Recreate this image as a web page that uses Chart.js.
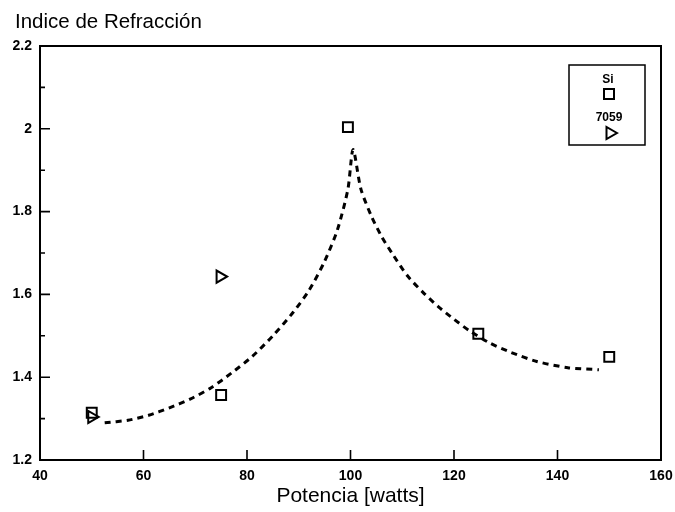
<!DOCTYPE html>
<html>
<head>
<meta charset="utf-8">
<script src="https://cdn.jsdelivr.net/npm/chart.js@4/dist/chart.umd.min.js"></script>
<style>
  html, body { margin: 0; padding: 0; background: #fff; }
  #wrap { width: 675px; height: 512px; position: relative; }
</style>
</head>
<body>
<div id="wrap"><canvas id="c" width="675" height="512"></canvas></div>
<script>
// ---- data ----
const chartTitle = 'Indice de Refracción';
const xTitle = 'Potencia [watts]';
const xTicks = [40, 60, 80, 100, 120, 140, 160];
const xTickLabels = ['40', '60', '80', '100', '120', '140', '160'];
const yTicks = [1.2, 1.4, 1.6, 1.8, 2.0, 2.2];
const yTickLabels = ['1.2', '1.4', '1.6', '1.8', '2', '2.2'];
const yMinorTicks = [1.3, 1.5, 1.7, 1.9, 2.1];

const siLabel = 'Si';
const siX = [50, 75, 99.5, 124.7, 150];
const siY = [1.314, 1.357, 2.004, 1.505, 1.449];

const g7059Label = '7059';
const g7059X = [50, 74.8];
const g7059Y = [1.304, 1.643];

const fitX = [52.5, 57, 61, 65, 69, 73, 77, 81, 85, 89, 92, 95, 97.5, 99.5, 100.5, 102, 104, 106, 108, 111, 114, 117, 120, 123, 127, 131, 136, 142, 148];
const fitY = [1.29, 1.296, 1.308, 1.326, 1.347, 1.374, 1.41, 1.45, 1.50, 1.558, 1.61, 1.68, 1.757, 1.854, 1.95, 1.855, 1.79, 1.74, 1.70, 1.645, 1.605, 1.57, 1.54, 1.512, 1.482, 1.46, 1.438, 1.423, 1.418];

const toPts = (xs, ys) => xs.map((x, i) => ({ x: x, y: ys[i] }));

const FONT = "'Liberation Sans', Arial, Helvetica, sans-serif";

function drawMarker(ctx, style, x, y) {
  ctx.save();
  ctx.strokeStyle = '#000';
  ctx.lineWidth = 2;
  ctx.beginPath();
  if (style === 'rect') {
    const s = 5;
    ctx.rect(x - s, y - s, 2 * s, 2 * s);
  } else {
    const r = 7;
    ctx.moveTo(x + r, y);
    ctx.lineTo(x - r * 0.5, y - r * 0.866);
    ctx.lineTo(x - r * 0.5, y + r * 0.866);
    ctx.closePath();
  }
  ctx.stroke();
  ctx.restore();
}

const framePlugin = {
  id: 'frame',
  afterDraw(chart) {
    const ctx = chart.ctx;
    const a = chart.chartArea;
    const xs = chart.scales.x, ys = chart.scales.y;
    ctx.save();
    ctx.fillStyle = '#000';
    ctx.font = '20.5px ' + FONT;
    ctx.textBaseline = 'alphabetic';
    ctx.textAlign = 'left';
    ctx.fillText(chartTitle, 15, 28);
    ctx.strokeStyle = '#000';
    ctx.lineWidth = 2;
    ctx.strokeRect(a.left, a.top, a.right - a.left, a.bottom - a.top);
    ctx.lineWidth = 1.6;
    ctx.beginPath();
    xTicks.forEach(v => {
      const px = xs.getPixelForValue(v);
      ctx.moveTo(px, a.bottom);
      ctx.lineTo(px, a.bottom - 10);
    });
    yTicks.forEach(v => {
      const py = ys.getPixelForValue(v);
      ctx.moveTo(a.left, py);
      ctx.lineTo(a.left + 10, py);
    });
    yMinorTicks.forEach(v => {
      const py = ys.getPixelForValue(v);
      ctx.moveTo(a.left, py);
      ctx.lineTo(a.left + 5, py);
    });
    ctx.stroke();
    const lx = 569, ly = 65, lw = 76, lh = 80;
    ctx.lineWidth = 1.5;
    ctx.strokeRect(lx, ly, lw, lh);
    ctx.font = 'bold 12px ' + FONT;
    ctx.textAlign = 'center';
    ctx.textBaseline = 'middle';
    ctx.fillText(siLabel, 608, 80);
    drawMarker(ctx, 'rect', 609, 94);
    ctx.fillText(g7059Label, 609, 118);
    drawMarker(ctx, 'triangle', 610, 133);
    ctx.restore();
  }
};

new Chart(document.getElementById('c'), {
  type: 'scatter',
  data: {
    datasets: [
      {
        label: 'fit',
        data: toPts(fitX, fitY),
        showLine: true,
        borderColor: '#000',
        borderWidth: 3,
        borderDash: [6, 5],
        pointRadius: 0,
        tension: 0.25,
        fill: false
      },
      {
        label: siLabel,
        data: toPts(siX, siY),
        pointStyle: 'rect',
        pointRadius: 7,
        pointBorderWidth: 2,
        pointBorderColor: '#000',
        pointBackgroundColor: 'rgba(0,0,0,0)',
        showLine: false
      },
      {
        label: g7059Label,
        data: toPts(g7059X, g7059Y),
        pointStyle: 'triangle',
        pointRotation: 90,
        pointRadius: 7,
        pointBorderWidth: 2,
        pointBorderColor: '#000',
        pointBackgroundColor: 'rgba(0,0,0,0)',
        showLine: false
      }
    ]
  },
  options: {
    responsive: false,
    animation: false,
    layout: { padding: { left: 0, right: 14, top: 46, bottom: 0 } },
    plugins: { legend: { display: false }, tooltip: { enabled: false }, title: { display: false } },
    scales: {
      x: {
        type: 'linear',
        min: 40, max: 160,
        afterFit: s => { s.height = 52; s.paddingLeft = 0; s.paddingRight = 0; },
        afterBuildTicks: s => { s.ticks = xTicks.map(v => ({ value: v })); },
        grid: { display: false, drawTicks: false },
        border: { display: false },
        ticks: {
          color: '#000',
          font: { family: FONT, size: 14, weight: 'bold' },
          padding: 8,
          maxRotation: 0,
          autoSkip: false,
          callback: (v, i) => xTickLabels[i]
        },
        title: {
          display: true,
          text: xTitle,
          color: '#000',
          font: { family: FONT, size: 21 },
          padding: { top: 0, bottom: 3 }
        }
      },
      y: {
        type: 'linear',
        min: 1.2, max: 2.2,
        afterFit: s => { s.width = 40; s.paddingTop = 0; s.paddingBottom = 0; },
        afterBuildTicks: s => { s.ticks = yTicks.map(v => ({ value: v })); },
        grid: { display: false, drawTicks: false },
        border: { display: false },
        ticks: {
          color: '#000',
          font: { family: FONT, size: 14, weight: 'bold' },
          padding: 8,
          autoSkip: false,
          callback: (v, i) => yTickLabels[i]
        }
      }
    }
  },
  plugins: [framePlugin]
});
</script>
</body>
</html>
